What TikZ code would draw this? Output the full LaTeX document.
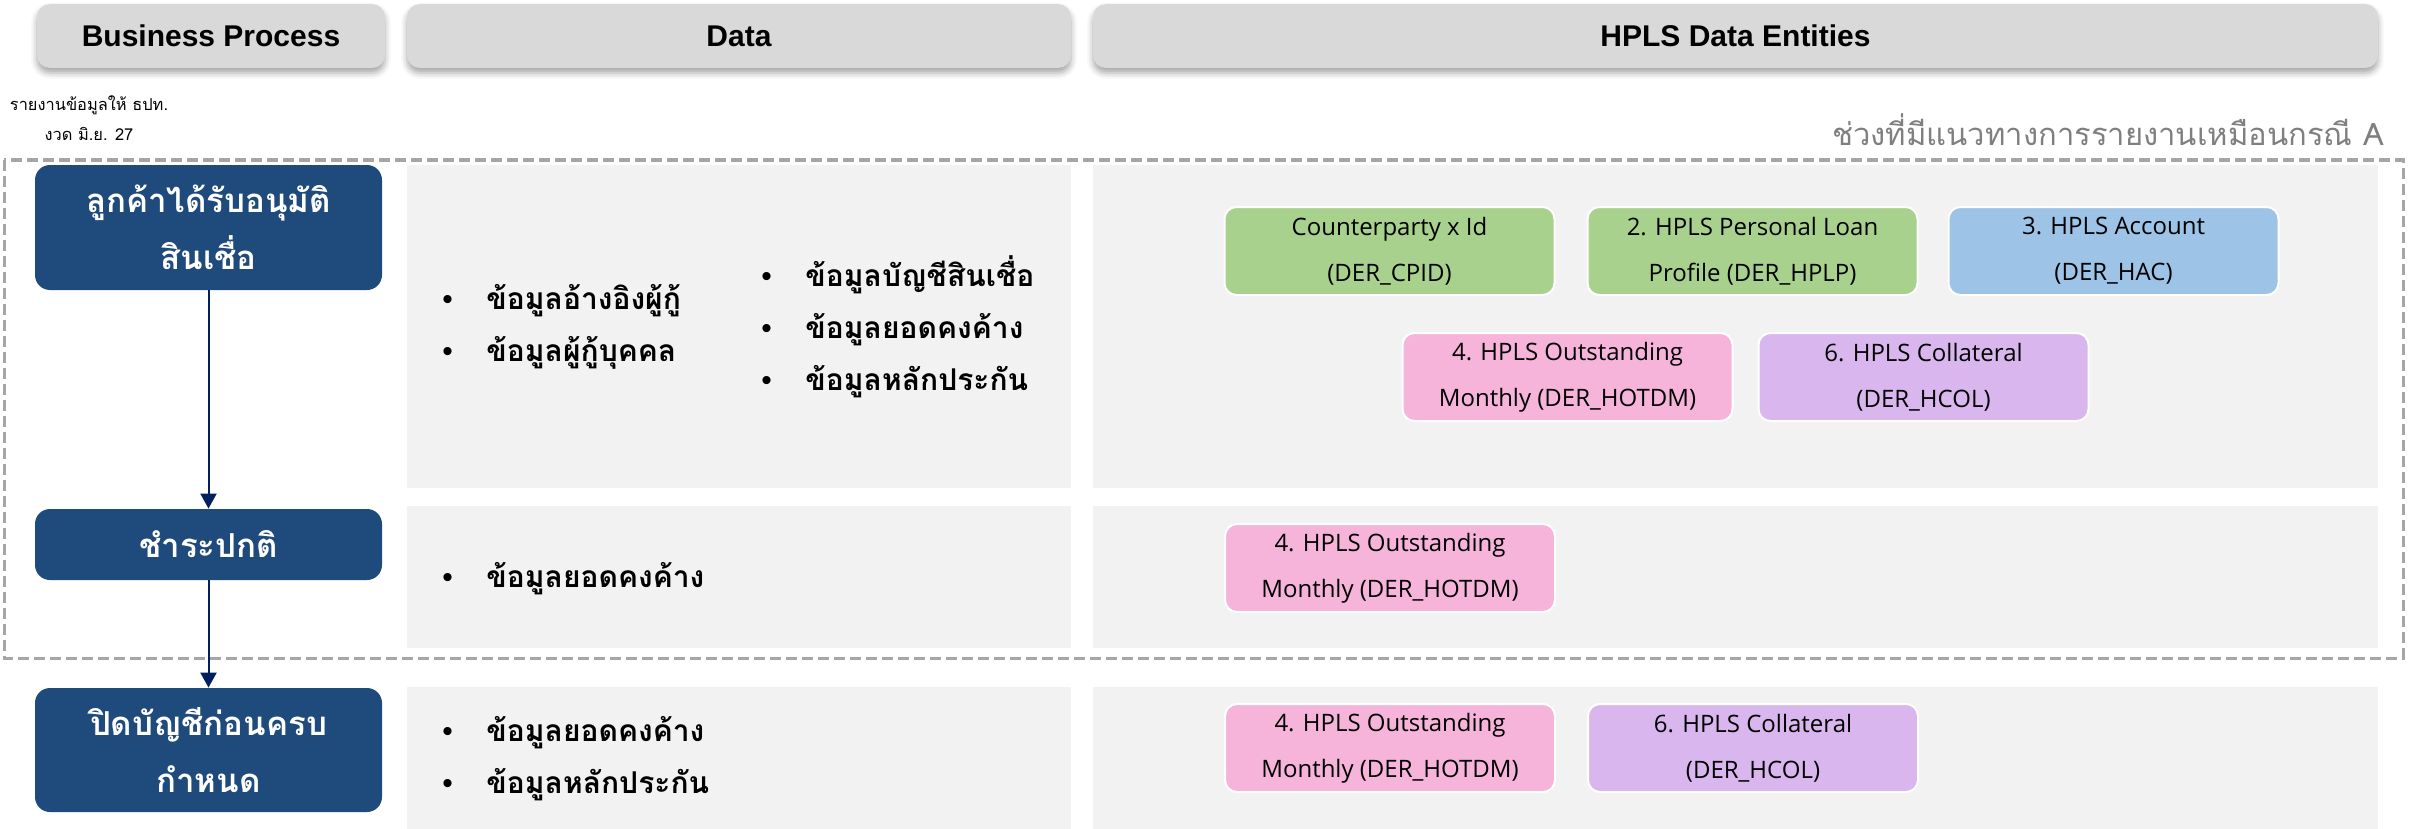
\documentclass[tikz,border=0pt]{standalone}
\usepackage{fontspec}
\usepackage{tikz}
\usepackage{xcolor}
\usetikzlibrary{positioning, shapes, arrows.meta, shadows.blur}

\setmainfont{Liberation Sans}
\newfontfamily\thaifont[Script=Thai]{Loma}
\newfontfamily\entfont{Open Sans}

\definecolor{hdrgray}{HTML}{D9D9D9}
\definecolor{procblue}{HTML}{1F4A7C}
\definecolor{panelgray}{HTML}{F2F2F2}
\definecolor{flownavy}{HTML}{002060}
\definecolor{dashgray}{HTML}{A6A6A6}
\definecolor{labelgray}{HTML}{7F7F7F}
\definecolor{entgreen}{HTML}{A9D18E}
\definecolor{entblue}{HTML}{9DC3E6}
\definecolor{entpink}{HTML}{F6B4DB}
\definecolor{entpurple}{HTML}{D9B6EE}

\newcommand{\itm}[1]{\makebox[22pt][l]{\normalfont\textbullet}#1}

\begin{document}
\begin{tikzpicture}[
  x=0.5pt,
  y=-0.5pt,
  hdr/.style={
    rectangle,
    fill=hdrgray,
    rounded corners=6.5pt,
    minimum height=32pt,
    font=\bfseries\fontsize{15}{18}\selectfont,
    blur shadow={shadow xshift=0pt, shadow yshift=-2.5pt, shadow blur radius=3pt, shadow opacity=35},
  },
  procbox/.style={
    rectangle,
    fill=procblue,
    rounded corners=7.5pt,
    align=center,
    text=white,
    minimum width=173.5pt,
    font=\thaifont\bfseries\fontsize{16.5}{28.5}\selectfont,
  },
  datalist/.style={
    anchor=west,
    align=left,
    inner sep=0pt,
    font=\thaifont\bfseries\fontsize{15}{26}\selectfont,
  },
  entity/.style={
    rectangle,
    draw=white,
    line width=1pt,
    rounded corners=6pt,
    align=center,
    inner sep=2pt,
    minimum width=165pt,
    minimum height=44pt,
    font=\entfont\fontsize{12}{23}\selectfont,
  },
  panel/.style={fill=panelgray},
  grp/.style={draw=dashgray, line width=1.5pt, dash pattern=on 5.5pt off 2.5pt},
  flow/.style={draw=flownavy, line width=1pt, -{Triangle[width=8pt, length=7.5pt]}},
]
\useasboundingbox (0,0) rectangle (2420,829);

\node[hdr, minimum width=174pt] (hbp) at (211,36) {Business Process};
\node[hdr, minimum width=332pt] (hdata) at (739,36) {Data};
\node[hdr, minimum width=642.5pt] (hent) at (1735.5,36) {HPLS Data Entities};

\node[align=center, inner sep=0pt, font=\thaifont\fontsize{8.2}{15}\selectfont] (rpt) at (89,118) {รายงานข้อมูลให้ ธปท.\\งวด มิ.ย. 27};
\node[anchor=base east, inner sep=0pt, text=labelgray, font=\thaifont\fontsize{15.5}{18}\selectfont] (same) at (2384,146) {ช่วงที่มีแนวทางการรายงานเหมือนกรณี A};

\fill[panel] (407,165) rectangle (1071,488);
\fill[panel] (1093,165) rectangle (2378,488);
\fill[panel] (407,506) rectangle (1071,648);
\fill[panel] (1093,506) rectangle (2378,648);
\fill[panel] (407,687) rectangle (1071,829);
\fill[panel] (1093,687) rectangle (2378,829);

\draw[grp] (4,160) rectangle (2403,658);

\node[procbox, minimum height=62.5pt] (bp1) at (208.5,227.5) {ลูกค้าได้รับอนุมัติ\\สินเชื่อ};
\node[procbox, minimum height=35.5pt] (bp2) at (208.5,544.5) {ชำระปกติ};
\node[procbox, minimum height=62pt] (bp3) at (208.5,750) {ปิดบัญชีก่อนครบ\\กำหนด};
\draw[flow] (bp1) -- (bp2);
\draw[flow] (bp2) -- (bp3);

\node[datalist] (d1a) at (442,326.5) {\itm{ข้อมูลอ้างอิงผู้กู้}\\\itm{ข้อมูลผู้กู้บุคคล}};
\node[datalist] (d1b) at (761,326.5) {\itm{ข้อมูลบัญชีสินเชื่อ}\\\itm{ข้อมูลยอดคงค้าง}\\\itm{ข้อมูลหลักประกัน}};
\node[datalist] (d2) at (442,579) {\itm{ข้อมูลยอดคงค้าง}};
\node[datalist] (d3) at (442,758.5) {\itm{ข้อมูลยอดคงค้าง}\\\itm{ข้อมูลหลักประกัน}};

\node[entity, fill=entgreen] (cpid) at (1389.5,251) {Counterparty x Id\\(DER\_CPID)};
\node[entity, fill=entgreen, right=15.5pt of cpid] (hplp) {2. HPLS Personal Loan\\Profile (DER\_HPLP)};
\node[entity, fill=entblue, right=14.5pt of hplp] (hac) {3. HPLS Account\\(DER\_HAC)};
\node[entity, fill=entpink] (hotdm1) at (1567.5,377) {4. HPLS Outstanding\\Monthly (DER\_HOTDM)};
\node[entity, fill=entpurple, right=12pt of hotdm1] (hcol1) {6. HPLS Collateral\\(DER\_HCOL)};
\node[entity, fill=entpink] (hotdm2) at (1390,568) {4. HPLS Outstanding\\Monthly (DER\_HOTDM)};
\node[entity, fill=entpink] (hotdm3) at (1390,748) {4. HPLS Outstanding\\Monthly (DER\_HOTDM)};
\node[entity, fill=entpurple, right=15.5pt of hotdm3] (hcol3) {6. HPLS Collateral\\(DER\_HCOL)};
\end{tikzpicture}
\end{document}
